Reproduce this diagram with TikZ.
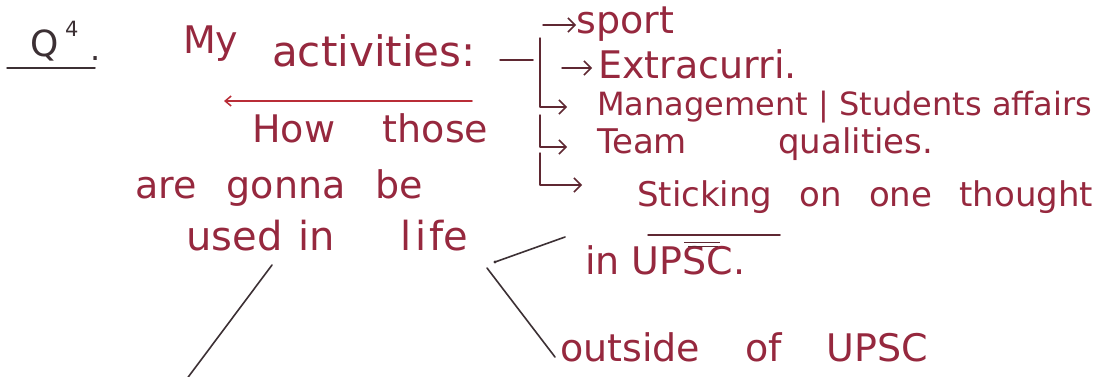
\documentclass[tikz,border=0pt]{standalone}
\usepackage{fontspec}
\setmainfont{DejaVu Sans}
\usetikzlibrary{arrows.meta}
\definecolor{ink}{RGB}{150,40,62}
\definecolor{pen}{RGB}{95,40,50}
\definecolor{dark}{RGB}{60,48,52}
\definecolor{redline}{RGB}{185,45,55}
\tikzset{
  txt/.style={inner sep=0pt, anchor=base west, text=ink},
  fs/.style={font=\fontsize{#1}{#1}\selectfont},
  conn/.style={draw=pen, line width=1.5pt, line cap=round, line join=round},
  arr/.style={conn, -{Straight Barb[length=7pt,width=14pt,line width=1.5pt]}},
  lifeline/.style={draw=dark, line width=1.6pt, line cap=round},
}
\begin{document}
\begin{tikzpicture}[x=1pt,y=-1pt]
\useasboundingbox (0,0) rectangle (1099,376);
\fill[white] (0,0) rectangle (1099,376);

% title
\node[txt, fs=36, text=dark] (q) at (30,56) {Q};
\node[txt, fs=21, text=dark] (q4) at (65,36) {4};
\node[txt, fs=32, text=dark] (qdot) at (90,60) {.};
\coordinate (qu1) at (7,68);
\coordinate (qu2) at (95,68);
\draw[draw=dark, line width=1.5pt, line cap=round] (qu1) -- (qu2);

\node[txt, fs=38] (my) at (183,53) {My};
\node[txt, fs=42] (act) at (272,66) {activities:};

% red underline arrow
\coordinate (rl1) at (472,101);
\coordinate (rl2) at (224,101);
\draw[draw=redline, line width=1.5pt, line cap=round, -{Straight Barb[length=6pt,width=10pt,line width=1.5pt]}] (rl1) -- (rl2);

\node[txt, fs=38] (how) at (252,142) {\makebox[236pt][s]{How those}};
\node[txt, fs=38] (gonna) at (135,198) {\makebox[288pt][s]{are gonna be}};
\node[txt, fs=40] (used) at (186,250) {used};
\node[txt, fs=40] (in) at (298,250) {in};
\node[txt, fs=40] (life) at (400,250) {l\kern4pt i\kern3pt fe};

% bracket
\coordinate (dashL) at (500,60);
\coordinate (dashR) at (533,60);
\draw[conn] (dashL) -- (dashR);
\coordinate (v1a) at (540,38);
\coordinate (v1b) at (540,107);
\coordinate (v2a) at (540,115);
\coordinate (v2b) at (540,147);
\coordinate (v3a) at (540,153);
\coordinate (v3b) at (540,185);

\node[txt, fs=38] (sport) at (576,33) {sport};
\node[txt, fs=38] (extra) at (598,78) {Extracurri.};
\node[txt, fs=32] (mgmt) at (597,115) {\makebox[495pt][s]{Management | Students affairs}};
\node[txt, fs=34] (team) at (597,153) {\makebox[336pt][s]{Team qualities.}};
\node[txt, fs=34] (stick) at (637,206) {\makebox[456pt][s]{Sticking on one thought}};

\coordinate (sp1) at (543,25);
\coordinate (ex1) at (562,68);
\draw[arr] (sp1) -- (sport.base west |- sp1);
\draw[arr] (ex1) -- ([xshift=-6pt]extra.base west |- ex1);
\draw[arr] (v1a) -- (v1b) -- ([xshift=-30pt]mgmt.base west |- v1b);
\draw[arr] (v2a) -- (v2b) -- ([xshift=-30pt]team.base west |- v2b);
\draw[arr] (v3a) -- (v3b) -- ([xshift=-55pt]stick.base west |- v3b);

\coordinate (su1) at (648,235);
\coordinate (su2) at (780,235);
\draw[conn] (su1) -- (su2);

% in UPSC / outside
\node[txt, fs=38] (inupsc) at (585,274) {in UPSC.};
\coordinate (ob1) at (684,242);
\coordinate (ob2) at (720,242);
\coordinate (ob3) at (688,246);
\coordinate (ob4) at (718,246);
\draw[draw=pen, line width=0.9pt] (ob1) -- (ob2) (ob3) -- (ob4);
\node[txt, fs=38] (outside) at (560,361) {\makebox[368pt][s]{outside of UPSC}};

\coordinate (lifeA) at (495,262);
\coordinate (upA) at (565,237);
\coordinate (lifeB) at (487,268);
\coordinate (outA) at (555,357);
\coordinate (usedA) at (272,265);
\coordinate (usedB) at (186,380);
\draw[lifeline] (upA) -- (lifeA);
\fill[dark] (lifeA) circle (1.7pt);
\draw[lifeline] (lifeB) -- (outA);
\draw[lifeline] (usedA) -- (usedB);
\end{tikzpicture}
\end{document}
